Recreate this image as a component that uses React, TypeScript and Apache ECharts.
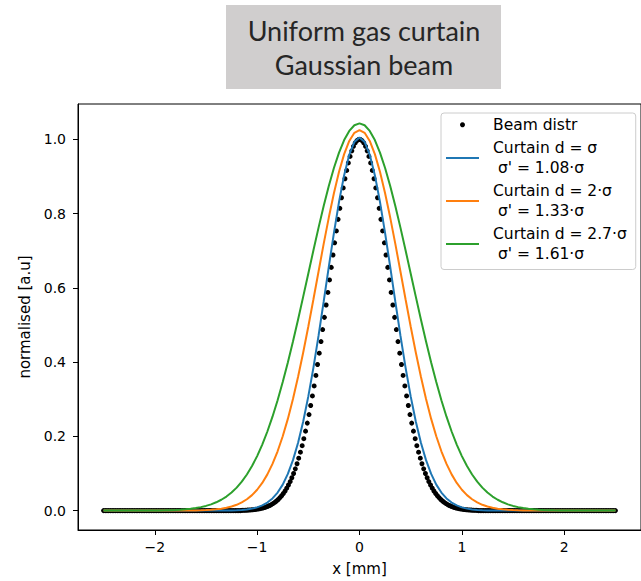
import React, { useEffect, useRef } from "react";
import * as echarts from "echarts";

const titleLines = ["Uniform gas curtain", "Gaussian beam"];
const xTicks = [-2, -1, 0, 1, 2];
const yTicks = [0, 0.2, 0.4, 0.6, 0.8, 1.0];
const seriesNames = [
  "Beam distr",
  "Curtain d = σ\n σ' = 1.08·σ",
  "Curtain d = 2·σ\n σ' = 1.33·σ",
  "Curtain d = 2.7·σ\n σ' = 1.61·σ",
];
const seriesColors = ["#000000", "#1f77b4", "#ff7f0e", "#2ca02c"];

const beamX = [
  -2.5, -2.483, -2.467, -2.45, -2.433, -2.416, -2.4, -2.383, -2.366, -2.349,
  -2.333, -2.316, -2.299, -2.283, -2.266, -2.249, -2.232, -2.216, -2.199, -2.182,
  -2.166, -2.149, -2.132, -2.115, -2.099, -2.082, -2.065, -2.049, -2.032, -2.015,
  -1.998, -1.982, -1.965, -1.948, -1.931, -1.915, -1.898, -1.881, -1.865, -1.848,
  -1.831, -1.814, -1.798, -1.781, -1.764, -1.748, -1.731, -1.714, -1.697, -1.681,
  -1.664, -1.647, -1.63, -1.614, -1.597, -1.58, -1.564, -1.547, -1.53, -1.513,
  -1.497, -1.48, -1.463, -1.447, -1.43, -1.413, -1.396, -1.38, -1.363, -1.346,
  -1.329, -1.313, -1.296, -1.279, -1.263, -1.246, -1.229, -1.212, -1.196, -1.179,
  -1.162, -1.146, -1.129, -1.112, -1.095, -1.079, -1.062, -1.045, -1.028, -1.012,
  -0.995, -0.978, -0.962, -0.945, -0.928, -0.911, -0.895, -0.878, -0.861, -0.845,
  -0.828, -0.811, -0.794, -0.778, -0.761, -0.744, -0.727, -0.711, -0.694, -0.677,
  -0.661, -0.644, -0.627, -0.61, -0.594, -0.577, -0.56, -0.544, -0.527, -0.51,
  -0.493, -0.477, -0.46, -0.443, -0.426, -0.41, -0.393, -0.376, -0.36, -0.343,
  -0.326, -0.309, -0.293, -0.276, -0.259, -0.243, -0.226, -0.209, -0.192, -0.176,
  -0.159, -0.142, -0.125, -0.109, -0.092, -0.075, -0.059, -0.042, -0.025, -0.008,
  0.008, 0.025, 0.042, 0.059, 0.075, 0.092, 0.109, 0.125, 0.142, 0.159,
  0.176, 0.192, 0.209, 0.226, 0.243, 0.259, 0.276, 0.293, 0.309, 0.326,
  0.343, 0.36, 0.376, 0.393, 0.41, 0.426, 0.443, 0.46, 0.477, 0.493,
  0.51, 0.527, 0.544, 0.56, 0.577, 0.594, 0.61, 0.627, 0.644, 0.661,
  0.677, 0.694, 0.711, 0.727, 0.744, 0.761, 0.778, 0.794, 0.811, 0.828,
  0.845, 0.861, 0.878, 0.895, 0.911, 0.928, 0.945, 0.962, 0.978, 0.995,
  1.012, 1.028, 1.045, 1.062, 1.079, 1.095, 1.112, 1.129, 1.146, 1.162,
  1.179, 1.196, 1.212, 1.229, 1.246, 1.263, 1.279, 1.296, 1.313, 1.329,
  1.346, 1.363, 1.38, 1.396, 1.413, 1.43, 1.447, 1.463, 1.48, 1.497,
  1.513, 1.53, 1.547, 1.564, 1.58, 1.597, 1.614, 1.63, 1.647, 1.664,
  1.681, 1.697, 1.714, 1.731, 1.748, 1.764, 1.781, 1.798, 1.814, 1.831,
  1.848, 1.865, 1.881, 1.898, 1.915, 1.931, 1.948, 1.965, 1.982, 1.998,
  2.015, 2.032, 2.049, 2.065, 2.082, 2.099, 2.115, 2.132, 2.149, 2.166,
  2.182, 2.199, 2.216, 2.232, 2.249, 2.266, 2.283, 2.299, 2.316, 2.333,
  2.349, 2.366, 2.383, 2.4, 2.416, 2.433, 2.45, 2.467, 2.483, 2.5,
];

const beamY = [
  0, 0, 0, 0, 0, 0, 0, 0, 0,
  0, 0, 0, 0, 0, 0, 0, 0, 0,
  0, 0, 0, 0, 0, 0, 0, 0, 0,
  0, 0, 0, 0, 0, 0, 0, 0, 0,
  0, 0, 0, 0, 0, 0, 0, 0, 0,
  0, 0, 0, 0, 0, 0, 0, 0, 0,
  0, 0, 0, 0, 0, 0, 0, 0, 0,
  0, 0, 0, 0, 0, 0, 0, 0, 0,
  0, 0, 0, 0, 0, 0, 0, 0, 0,
  0.0007, 0.0008, 0.001, 0.0013, 0.0016, 0.0019, 0.0023, 0.0028, 0.0034,
  0.0041, 0.0049, 0.0059, 0.007, 0.0084, 0.0099, 0.0117, 0.0138, 0.0162, 0.019,
  0.0222, 0.0259, 0.03, 0.0348, 0.0401, 0.0461, 0.0529, 0.0604, 0.0689, 0.0782,
  0.0886, 0.1, 0.1125, 0.1262, 0.1412, 0.1574, 0.1749, 0.1938, 0.2141, 0.2357,
  0.2587, 0.2831, 0.3089, 0.3359, 0.3642, 0.3936, 0.424, 0.4554, 0.4877, 0.5205,
  0.5539, 0.5876, 0.6214, 0.6551, 0.6885, 0.7213, 0.7534, 0.7845, 0.8143, 0.8426,
  0.8692, 0.8938, 0.9163, 0.9365, 0.9541, 0.969, 0.9812, 0.9903, 0.9965, 0.9996,
  0.9996, 0.9965, 0.9903, 0.9812, 0.969, 0.9541, 0.9365, 0.9163, 0.8938, 0.8692,
  0.8426, 0.8143, 0.7845, 0.7534, 0.7213, 0.6885, 0.6551, 0.6214, 0.5876, 0.5539,
  0.5205, 0.4877, 0.4554, 0.424, 0.3936, 0.3642, 0.3359, 0.3089, 0.2831, 0.2587,
  0.2357, 0.2141, 0.1938, 0.1749, 0.1574, 0.1412, 0.1262, 0.1125, 0.1, 0.0886,
  0.0782, 0.0689, 0.0604, 0.0529, 0.0461, 0.0401, 0.0348, 0.03, 0.0259, 0.0222,
  0.019, 0.0162, 0.0138, 0.0117, 0.0099, 0.0084, 0.007, 0.0059, 0.0049, 0.0041,
  0.0034, 0.0028, 0.0023, 0.0019, 0.0016, 0.0013, 0.001, 0.0008, 0.0007,
  0, 0, 0, 0, 0, 0, 0, 0, 0,
  0, 0, 0, 0, 0, 0, 0, 0, 0,
  0, 0, 0, 0, 0, 0, 0, 0, 0,
  0, 0, 0, 0, 0, 0, 0, 0, 0,
  0, 0, 0, 0, 0, 0, 0, 0, 0,
  0, 0, 0, 0, 0, 0, 0, 0, 0,
  0, 0, 0, 0, 0, 0, 0, 0, 0,
  0, 0, 0, 0, 0, 0, 0, 0, 0,
  0, 0, 0, 0, 0, 0, 0, 0, 0,
];

const lineX = [
  -2.5, -2.45, -2.4, -2.35, -2.3, -2.25, -2.2, -2.15, -2.1, -2.05,
  -2.0, -1.95, -1.9, -1.85, -1.8, -1.75, -1.7, -1.65, -1.6, -1.55,
  -1.5, -1.45, -1.4, -1.35, -1.3, -1.25, -1.2, -1.15, -1.1, -1.05,
  -1.0, -0.95, -0.9, -0.85, -0.8, -0.75, -0.7, -0.65, -0.6, -0.55,
  -0.5, -0.45, -0.4, -0.35, -0.3, -0.25, -0.2, -0.15, -0.1, -0.05,
  0,
  0.05, 0.1, 0.15, 0.2, 0.25, 0.3, 0.35, 0.4, 0.45, 0.5,
  0.55, 0.6, 0.65, 0.7, 0.75, 0.8, 0.85, 0.9, 0.95, 1.0,
  1.05, 1.1, 1.15, 1.2, 1.25, 1.3, 1.35, 1.4, 1.45, 1.5,
  1.55, 1.6, 1.65, 1.7, 1.75, 1.8, 1.85, 1.9, 1.95, 2.0,
  2.05, 2.1, 2.15, 2.2, 2.25, 2.3, 2.35, 2.4, 2.45, 2.5,
];

const blueY = [
  0, 0, 0, 0, 0, 0, 0, 0, 0, 0,
  0, 0, 0, 0, 0, 0, 0, 0, 0, 0,
  0, 0, 0.0001, 0.0002, 0.0003, 0.0006, 0.0011, 0.0019, 0.0033, 0.0054,
  0.0088, 0.014, 0.0217, 0.0329, 0.0486, 0.0701, 0.0988, 0.136, 0.1828, 0.24,
  0.3077, 0.3853, 0.4712, 0.5628, 0.6564, 0.7476, 0.8316, 0.9035, 0.9585, 0.9932,
  1.005,
  0.9932, 0.9585, 0.9035, 0.8316, 0.7476, 0.6564, 0.5628, 0.4712, 0.3853, 0.3077,
  0.24, 0.1828, 0.136, 0.0988, 0.0701, 0.0486, 0.0329, 0.0217, 0.014, 0.0088,
  0.0054, 0.0033, 0.0019, 0.0011, 0.0006, 0.0003, 0.0002, 0.0001, 0, 0,
  0, 0, 0, 0, 0, 0, 0, 0, 0, 0,
  0, 0, 0, 0, 0, 0, 0, 0, 0, 0,
];

const orangeY = [
  0, 0, 0, 0, 0, 0, 0, 0, 0, 0,
  0, 0, 0, 0, 0, 0.0001, 0.0002, 0.0004, 0.0006, 0.001,
  0.0015, 0.0023, 0.0035, 0.0052, 0.0076, 0.011, 0.0157, 0.022, 0.0306, 0.0417,
  0.0562, 0.0746, 0.0976, 0.1258, 0.1599, 0.2002, 0.2471, 0.3006, 0.3604, 0.4259,
  0.496, 0.5694, 0.6442, 0.7183, 0.7893, 0.8549, 0.9126, 0.9602, 0.9957, 1.0176,
  1.025,
  1.0176, 0.9957, 0.9602, 0.9126, 0.8549, 0.7893, 0.7183, 0.6442, 0.5694, 0.496,
  0.4259, 0.3604, 0.3006, 0.2471, 0.2002, 0.1599, 0.1258, 0.0976, 0.0746, 0.0562,
  0.0417, 0.0306, 0.022, 0.0157, 0.011, 0.0076, 0.0052, 0.0035, 0.0023, 0.0015,
  0.001, 0.0006, 0.0004, 0.0002, 0.0001, 0, 0, 0, 0, 0,
  0, 0, 0, 0, 0, 0, 0, 0, 0, 0,
];

const greenY = [
  0, 0, 0, 0, 0, 0, 0.0001, 0.0001, 0.0002, 0.0003,
  0.0004, 0.0006, 0.0009, 0.0013, 0.0018, 0.0026, 0.0036, 0.005, 0.0069, 0.0094,
  0.0127, 0.0169, 0.0224, 0.0293, 0.0379, 0.0487, 0.062, 0.078, 0.0973, 0.1201,
  0.1468, 0.1778, 0.2131, 0.253, 0.2974, 0.3462, 0.3991, 0.4555, 0.5149, 0.5764,
  0.6389, 0.7012, 0.7622, 0.8203, 0.8743, 0.9227, 0.9643, 0.998, 1.0227, 1.0379,
  1.043,
  1.0379, 1.0227, 0.998, 0.9643, 0.9227, 0.8743, 0.8203, 0.7622, 0.7012, 0.6389,
  0.5764, 0.5149, 0.4555, 0.3991, 0.3462, 0.2974, 0.253, 0.2131, 0.1778, 0.1468,
  0.1201, 0.0973, 0.078, 0.062, 0.0487, 0.0379, 0.0293, 0.0224, 0.0169, 0.0127,
  0.0094, 0.0069, 0.005, 0.0036, 0.0026, 0.0018, 0.0013, 0.0009, 0.0006, 0.0004,
  0.0003, 0.0002, 0.0001, 0.0001, 0, 0, 0, 0, 0, 0,
];

const FONT = "DejaVu Sans";
const LINE_ICON = "path://M0,0H33V2H0Z";

function pairs(xs: number[], ys: number[]) {
  return xs.map((x, i) => [x, ys[i]]);
}

export default function App() {
  const ref = useRef<HTMLDivElement>(null);
  useEffect(() => {
    const chart = echarts.init(ref.current!, null, { renderer: "svg" });
    const lineSeries = [blueY, orangeY, greenY].map((ys, i) => ({
      type: "line",
      name: seriesNames[i + 1],
      data: pairs(lineX, ys),
      symbol: "none",
      showSymbol: false,
      lineStyle: { color: seriesColors[i + 1], width: 2 },
      itemStyle: { color: seriesColors[i + 1] },
      z: 3,
    }));
    chart.setOption({
      animation: false,
      backgroundColor: "#ffffff",
      graphic: [
        {
          type: "rect",
          shape: { x: 226, y: 5, width: 275, height: 84 },
          style: { fill: "#d0cece" },
        },
        {
          type: "text",
          x: 364,
          y: 47,
          style: {
            text: titleLines.join("\n"),
            fontSize: 27,
            fontFamily: "Lato",
            fill: "#262626",
            align: "center",
            verticalAlign: "middle",
            lineHeight: 34,
          },
        },
      ],
      grid: {
        left: 78,
        top: 104,
        width: 570,
        height: 427,
        show: true,
        borderColor: "#000",
        borderWidth: 1,
        backgroundColor: "transparent",
      },
      legend: {
        orient: "vertical",
        left: 441,
        top: 113,
        itemWidth: 33,
        itemHeight: 5,
        itemGap: 4,
        padding: [2, 9, 6, 5],
        backgroundColor: "#ffffff",
        borderColor: "#cccccc",
        borderWidth: 1,
        borderRadius: 3,
        selectedMode: false,
        symbolKeepAspect: true,
        textStyle: {
          fontFamily: FONT,
          fontSize: 15.5,
          color: "#000",
          lineHeight: 19.5,
          padding: [0, 0, 0, 9],
        },
        data: [
          { name: seriesNames[0], icon: "circle" },
          { name: seriesNames[1], icon: LINE_ICON },
          { name: seriesNames[2], icon: LINE_ICON },
          { name: seriesNames[3], icon: LINE_ICON },
        ],
      },
      xAxis: {
        type: "value",
        min: -2.75,
        max: 2.75,
        splitLine: { show: false },
        axisLine: { onZero: false, lineStyle: { color: "#000", width: 1 } },
        axisTick: { customValues: xTicks, length: 5, lineStyle: { color: "#000" } },
        axisLabel: {
          customValues: xTicks,
          formatter: (v: number) => (v < 0 ? "\u2212" + Math.abs(v) : String(v)),
          color: "#000",
          fontFamily: FONT,
          fontSize: 14,
          margin: 10,
        },
        name: "x [mm]",
        nameLocation: "middle",
        nameGap: 31,
        nameTextStyle: { color: "#000", fontFamily: FONT, fontSize: 15 },
      },
      yAxis: {
        type: "value",
        min: -0.0522,
        max: 1.0952,
        splitLine: { show: false },
        axisLine: { onZero: false, lineStyle: { color: "#000", width: 1 } },
        axisTick: { customValues: yTicks, length: 5, lineStyle: { color: "#000" } },
        axisLabel: {
          customValues: yTicks,
          formatter: (v: number) => v.toFixed(1),
          color: "#000",
          fontFamily: FONT,
          fontSize: 14,
          margin: 12,
        },
        name: "normalised [a.u]",
        nameLocation: "middle",
        nameGap: 46,
        nameTextStyle: { color: "#000", fontFamily: FONT, fontSize: 15 },
      },
      series: [
        {
          type: "scatter",
          name: seriesNames[0],
          data: pairs(beamX, beamY),
          symbol: "circle",
          symbolSize: 5,
          itemStyle: { color: seriesColors[0], opacity: 1 },
          z: 2,
        },
        ...lineSeries,
      ],
    });
    return () => chart.dispose();
  }, []);
  return (
    <div
      ref={ref}
      style={{ position: "fixed", left: 0, top: 0, width: 641, height: 581, background: "#fff" }}
    />
  );
}
